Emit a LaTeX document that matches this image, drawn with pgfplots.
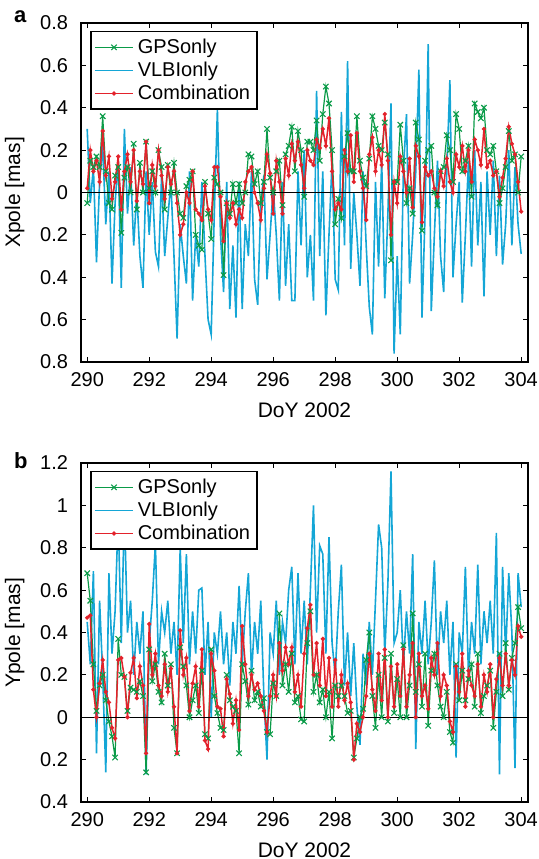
\documentclass[border=0pt]{standalone}
\usepackage{fontspec}
\setmainfont{Liberation Sans}
\usepackage{pgfplots}
\usepackage{pgfplotstable}
\pgfplotsset{compat=1.18}
\definecolor{gcol}{HTML}{0A9B48}
\definecolor{vcol}{HTML}{14A6D6}
\definecolor{rcol}{HTML}{E3222B}

\pgfplotstableread{
x ga va ca gb vb cb
290.0 -0.05 0.30 0.02 0.68 0.45 0.47
290.1 0.15 -0.05 0.20 0.55 0.25 0.48
290.2 0.12 0.12 0.10 0.25 0.69 0.13
290.3 0.17 -0.33 0.15 0.03 -0.17 0.00
290.4 0.12 0.05 0.05 0.15 0.55 0.16
290.5 0.36 0.22 0.29 0.20 0.20 0.27
290.6 0.10 -0.15 0.08 0.08 -0.26 0.12
290.7 -0.05 0.10 0.17 -0.02 0.68 0.07
290.8 -0.08 -0.43 -0.03 -0.09 0.30 -0.05
290.9 0.08 -0.05 0.05 -0.19 0.50 -0.10
291.0 0.12 0.15 0.17 0.37 0.95 0.27
291.1 -0.19 -0.45 -0.08 0.20 0.35 0.28
291.2 0.07 0.30 0.10 0.19 0.98 0.19
291.3 0.12 -0.10 0.18 0.03 0.40 0.00
291.4 0.00 0.12 0.05 0.14 0.55 0.21
291.5 0.23 -0.25 0.20 0.13 0.20 0.28
291.6 -0.08 0.00 -0.04 0.12 0.45 0.09
291.7 0.14 -0.30 0.10 0.17 0.30 0.24
291.8 0.00 -0.45 0.04 0.10 0.50 0.15
291.9 0.24 0.10 0.24 -0.26 -0.27 -0.17
292.0 0.02 -0.20 -0.05 0.32 0.35 0.44
292.1 0.10 0.05 0.13 0.17 0.55 0.20
292.2 0.00 -0.28 0.03 0.25 0.82 0.30
292.3 0.20 -0.35 0.20 0.12 0.25 0.15
292.4 0.12 0.08 0.08 0.07 0.50 0.10
292.5 -0.08 -0.30 -0.03 0.30 0.40 0.25
292.6 0.13 -0.12 0.12 0.15 0.55 0.12
292.7 0.00 0.05 0.04 0.25 0.30 0.23
292.8 0.14 -0.30 0.10 -0.05 0.45 0.05
292.9 0.00 -0.69 -0.05 -0.17 0.20 -0.17
293.0 -0.10 -0.15 -0.20 0.33 0.80 0.41
293.1 -0.12 -0.30 -0.15 0.24 0.35 0.20
293.2 0.03 -0.43 0.00 0.15 0.77 0.28
293.3 0.06 0.10 -0.05 0.00 0.25 0.03
293.4 0.10 -0.51 0.10 0.08 0.50 0.16
293.5 -0.20 -0.20 -0.08 0.15 0.30 0.24
293.6 -0.25 -0.35 -0.10 0.02 0.60 0.05
293.7 -0.27 0.05 -0.13 0.22 0.61 0.32
293.8 0.05 -0.30 0.03 -0.08 0.20 -0.11
293.9 -0.10 -0.60 -0.08 -0.10 0.45 -0.15
294.0 -0.22 -0.67 -0.13 0.32 0.00 0.30
294.1 0.07 -0.10 0.12 0.10 0.40 0.22
294.2 0.04 0.39 0.12 0.02 0.30 0.05
294.3 0.00 -0.20 -0.02 -0.05 0.50 0.04
294.4 -0.39 -0.47 -0.23 -0.06 0.25 -0.09
294.5 -0.05 0.05 -0.05 0.20 0.40 0.18
294.6 -0.10 -0.55 -0.12 0.08 0.15 0.11
294.7 0.04 -0.25 -0.05 0.05 0.45 -0.03
294.8 -0.05 -0.59 -0.15 0.03 0.30 0.08
294.9 0.04 0.05 -0.08 -0.17 0.62 -0.06
295.0 -0.05 -0.55 -0.12 0.25 0.25 0.43
295.1 0.00 -0.15 0.05 0.17 0.50 0.25
295.2 0.18 -0.30 0.10 0.06 0.68 0.10
295.3 0.17 0.10 0.12 0.22 0.20 0.20
295.4 0.04 -0.41 0.00 0.08 0.45 0.13
295.5 0.10 -0.53 -0.05 0.12 0.30 0.16
295.6 -0.05 -0.05 -0.13 0.05 0.55 0.10
295.7 0.05 0.08 0.02 0.09 0.10 0.03
295.8 0.30 -0.41 0.18 -0.07 -0.20 -0.07
295.9 0.07 -0.20 0.09 -0.08 0.40 0.10
296.0 0.00 0.02 -0.10 0.16 0.30 0.20
296.1 0.10 -0.20 0.15 0.10 0.55 0.10
296.2 0.15 -0.51 0.05 0.49 0.20 0.35
296.3 -0.06 0.05 -0.10 0.15 0.45 0.22
296.4 0.18 -0.44 0.16 0.25 0.35 0.33
296.5 0.22 -0.15 0.08 0.12 0.60 0.25
296.6 0.31 -0.51 0.23 0.30 0.71 0.33
296.7 0.10 -0.51 0.15 0.07 0.25 0.12
296.8 0.29 0.10 0.24 0.10 0.68 0.20
296.9 0.20 -0.25 0.13 -0.01 0.30 0.05
297.0 -0.02 0.20 0.02 -0.02 0.55 0.30
297.1 0.24 -0.40 0.20 0.35 0.25 0.42
297.2 0.24 -0.20 0.15 0.50 0.60 0.53
297.3 0.20 -0.51 0.13 0.12 1.00 0.20
297.4 0.34 0.48 0.25 0.20 0.40 0.35
297.5 0.15 -0.30 0.21 0.07 0.81 0.15
297.6 0.37 0.10 0.30 0.13 0.77 0.37
297.7 0.50 -0.58 0.22 0.00 0.30 0.10
297.8 0.42 -0.20 0.35 0.12 0.85 0.28
297.9 0.20 0.15 0.10 -0.10 0.35 0.05
298.0 -0.15 -0.41 -0.08 0.15 0.20 0.27
298.1 -0.03 -0.46 -0.05 0.10 0.50 0.05
298.2 -0.12 0.38 -0.08 0.15 0.72 0.20
298.3 0.17 -0.25 0.20 0.10 0.15 0.08
298.4 0.28 0.62 0.10 0.02 0.40 0.16
298.5 0.10 -0.36 0.27 0.03 0.10 0.07
298.6 0.10 0.00 0.05 -0.19 0.35 -0.20
298.7 0.36 -0.20 0.28 -0.10 0.05 -0.03
298.8 0.15 -0.44 0.10 0.00 -0.13 -0.07
298.9 0.07 0.10 0.02 0.04 0.30 0.00
299.0 0.03 -0.25 -0.13 0.27 0.15 0.10
299.1 0.16 -0.54 0.18 0.40 0.45 0.30
299.2 0.36 -0.67 0.26 0.10 0.20 0.13
299.3 0.30 0.05 0.10 -0.05 0.55 0.03
299.4 0.22 -0.35 0.20 0.20 0.91 0.30
299.5 0.20 0.15 0.13 0.00 0.80 0.08
299.6 0.33 -0.50 0.37 0.28 0.30 0.32
299.7 0.18 -0.10 0.15 -0.02 0.63 0.00
299.8 -0.32 0.42 -0.20 0.30 1.16 0.24
299.9 0.05 -0.76 0.05 0.02 0.35 0.05
300.0 0.05 -0.30 -0.05 0.18 0.40 0.25
300.1 0.32 -0.67 0.17 0.00 0.60 0.10
300.2 0.15 0.10 0.10 0.34 0.25 0.32
300.3 -0.05 0.37 0.00 0.00 0.50 0.05
300.4 0.02 -0.43 0.16 0.15 0.30 0.20
300.5 -0.10 -0.20 -0.07 0.49 0.77 0.35
300.6 0.33 0.10 0.22 0.12 -0.15 0.00
300.7 0.25 0.58 0.17 0.25 0.45 0.30
300.8 -0.18 -0.59 -0.14 0.05 0.30 0.10
300.9 0.15 -0.10 0.12 0.30 0.55 0.15
301.0 0.20 0.70 0.08 -0.04 0.25 0.04
301.1 0.22 -0.56 0.10 0.22 0.45 0.28
301.2 0.00 -0.20 0.02 0.30 0.74 0.20
301.3 -0.06 0.15 -0.02 0.15 0.20 0.35
301.4 0.10 -0.30 0.10 0.05 0.50 0.10
301.5 0.12 -0.47 0.03 0.00 0.35 0.20
301.6 0.27 0.10 0.16 0.12 0.55 0.15
301.7 0.20 0.53 0.05 -0.07 0.20 -0.02
301.8 0.05 -0.40 0.00 -0.12 0.45 -0.07
301.9 0.37 -0.15 0.18 0.25 -0.19 0.24
302.0 0.30 0.05 0.12 0.08 0.40 0.12
302.1 0.10 -0.52 0.22 0.22 0.30 0.30
302.2 0.15 -0.20 0.10 0.08 0.71 0.05
302.3 0.22 0.15 0.20 0.18 0.20 0.22
302.4 -0.02 -0.35 0.05 0.25 0.45 0.15
302.5 0.42 0.20 0.25 0.05 0.30 0.10
302.6 0.38 -0.25 0.20 0.30 0.72 0.25
302.7 0.35 0.05 0.13 0.02 0.25 0.05
302.8 0.40 -0.49 0.30 0.10 0.50 0.20
302.9 0.20 0.10 0.12 0.15 0.35 0.12
303.0 0.18 -0.20 0.15 0.22 0.55 0.25
303.1 0.22 0.15 0.08 -0.05 0.30 0.00
303.2 0.10 -0.30 0.10 0.12 0.87 0.18
303.3 -0.05 0.08 -0.02 0.30 -0.27 0.28
303.4 0.02 -0.34 0.07 0.10 0.71 0.15
303.5 0.12 -0.15 0.16 0.35 0.30 0.30
303.6 0.29 0.20 0.31 0.13 0.68 0.15
303.7 0.15 -0.25 0.23 0.28 0.40 0.27
303.8 0.18 0.12 0.18 0.35 -0.24 0.20
303.9 0.00 -0.15 0.05 0.52 0.68 0.43
304.0 0.17 -0.29 -0.09 0.42 0.52 0.38
}\data

\pgfplotsset{
  myaxis/.style={
    scale only axis, width=223.5pt, height=169.5pt,
    xmin=289.8, xmax=304.22,
    xtick={290,292,...,304},
    tick align=inside, major tick length=2.5pt,
    axis line style={line width=0.9pt},
    every tick/.style={black, line width=0.6pt},
    tick label style={font=\fontsize{10}{12}\selectfont},
    xticklabel style={yshift=-1.5pt},
    yticklabel style={xshift=-3pt},
    label style={font=\fontsize{10.5}{12}\selectfont},
    xlabel style={yshift=-1.5pt},
    ylabel style={yshift=1pt},
    /pgf/number format/assume math mode=true,
    legend style={at={(0.021,0.977)}, anchor=north west, draw=black, line width=0.8pt,
      font=\fontsize{10}{12}\selectfont, inner sep=1.5pt, row sep=-1.2pt, cells={anchor=west}},
    legend image code/.code={\draw[mark repeat=2,mark phase=2,#1] plot coordinates {(0pt,0pt) (9.5pt,0pt) (19pt,0pt)};},
    xlabel={DoY 2002},
  },
  gps/.style={gcol, line width=0.6pt, mark=x, mark size=1.9pt, mark options={line width=0.55pt}},
  vlbi/.style={vcol, line width=0.8pt, no markers},
  comb/.style={rcol, line width=0.75pt, mark=*, mark size=0.65pt},
}

\begin{document}
\begin{tikzpicture}
\begin{axis}[myaxis, at={(40.5pt,248.5pt)}, anchor=south west,
  ymin=-0.8, ymax=0.8, ytick={-0.8,-0.6,...,0.81},
  yticklabels={0.8,0.6,0.4,0.2,0,0.2,0.4,0.6,0.8},
  ylabel={Xpole [mas]}]
\addplot[vlbi, forget plot] table[x=x, y=va] {\data};
\addplot[gps, forget plot] table[x=x, y=ga] {\data};
\addplot[comb, forget plot] table[x=x, y=ca] {\data};
\addplot[black, line width=0.6pt, forget plot] coordinates {(289.8,0) (304.22,0)};
\addlegendimage{gps}
\addlegendimage{vlbi}
\addlegendimage{comb}
\legend{GPSonly,VLBIonly,Combination}
\end{axis}
\begin{axis}[myaxis, at={(40.5pt,28.5pt)}, anchor=south west,
  ymin=-0.4, ymax=1.2, ytick={-0.4,-0.2,...,1.21},
  yticklabels={0.4,0.2,0,0.2,0.4,0.6,0.8,1,1.2},
  ylabel={Ypole [mas]}]
\addplot[vlbi, forget plot] table[x=x, y=vb] {\data};
\addplot[gps, forget plot] table[x=x, y=gb] {\data};
\addplot[comb, forget plot] table[x=x, y=cb] {\data};
\addplot[black, line width=0.6pt, forget plot] coordinates {(289.8,0) (304.22,0)};
\addlegendimage{gps}
\addlegendimage{vlbi}
\addlegendimage{comb}
\legend{GPSonly,VLBIonly,Combination}
\end{axis}
\node[anchor=base west, font=\fontsize{11}{12}\selectfont\bfseries] at (3.5pt,418pt) {a};
\node[anchor=base west, font=\fontsize{11}{12}\selectfont\bfseries] at (3.5pt,195pt) {b};
\pgfresetboundingbox
\path[use as bounding box] (0,0) rectangle (269pt,429.5pt);
\end{tikzpicture}
\end{document}
